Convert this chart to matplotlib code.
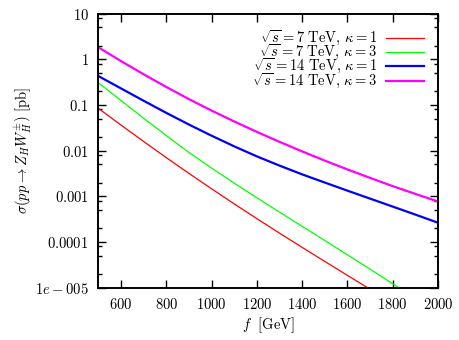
"""
Sección eficaz pp -> Z_H W_H en función de f (estilo gnuplot/epslatex)
"""

import matplotlib
matplotlib.use('Agg')
import matplotlib.pyplot as plt
from matplotlib.ticker import LogLocator, NullFormatter

plt.rcParams['mathtext.fontset'] = 'cm'
plt.rcParams['font.family'] = 'serif'
plt.rcParams['font.serif'] = ['DejaVu Serif']

# ─────────────────────────────────────────────
# Datos
# ─────────────────────────────────────────────
f_full = [500, 600, 700, 800, 900, 1000, 1100, 1200, 1300, 1400,
          1500, 1600, 1700, 1800, 1900, 2000]

f_7_k1 = [500, 600, 700, 800, 900, 1000, 1100, 1200, 1300, 1400,
          1500, 1600, 1700]
sigma_7_k1 = [0.084, 0.0362, 0.0158, 0.00701, 0.00317, 0.00146, 6.82e-4,
              3.24e-4, 1.56e-4, 7.62e-5, 3.75e-5, 1.86e-5, 9.25e-6]

f_7_k3 = [500, 600, 700, 800, 900, 1000, 1100, 1200, 1300, 1400,
          1500, 1600, 1700, 1800, 1900]
sigma_7_k3 = [0.305, 0.1245, 0.0511, 0.0213, 0.00908, 0.00415, 0.00194,
              9.29e-4, 4.5e-4, 2.2e-4, 1.08e-4, 5.25e-5, 2.54e-5, 1.22e-5,
              5.8e-6]

sigma_14_k1 = [0.428, 0.2296, 0.1233, 0.067, 0.0372, 0.0212, 0.0124,
               0.00748, 0.0047, 0.00302, 0.0020, 0.00133, 8.9e-4,
               5.96e-4, 3.98e-4, 2.64e-4]

sigma_14_k3 = [1.82, 0.912, 0.468, 0.247, 0.134, 0.0753, 0.0435, 0.0257,
               0.0156, 0.00962, 0.00605, 0.00388, 0.00253, 0.00167,
               0.00113, 7.7e-4]

labels = [r'$\sqrt{s}=7\ \mathrm{TeV},\,\kappa=1$',
          r'$\sqrt{s}=7\ \mathrm{TeV},\,\kappa=3$',
          r'$\sqrt{s}=14\ \mathrm{TeV},\,\kappa=1$',
          r'$\sqrt{s}=14\ \mathrm{TeV},\,\kappa=3$']

xticks = [600, 800, 1000, 1200, 1400, 1600, 1800, 2000]
yticks = [1e1, 1e0, 1e-1, 1e-2, 1e-3, 1e-4, 1e-5]
ytick_labels = ['10', '1', '0.1', '0.01', '0.001', '0.0001', '1e-005']

# ─────────────────────────────────────────────
# Figura
# ─────────────────────────────────────────────
fig = plt.figure(figsize=(4.6, 3.4), dpi=100)
ax = fig.add_axes([0.214, 0.154, 0.738, 0.806])

ax.plot(f_7_k1, sigma_7_k1, color='#ff0000', lw=0.9, label=labels[0])
ax.plot(f_7_k3, sigma_7_k3, color='#00ff00', lw=0.9, label=labels[1])
ax.plot(f_full, sigma_14_k1, color='#0000ff', lw=1.6, label=labels[2])
ax.plot(f_full, sigma_14_k3, color='#ff00ff', lw=1.6, label=labels[3])

ax.set_yscale('log')
ax.set_xlim(500, 2000)
ax.set_ylim(1e-5, 10)

ax.set_xticks(xticks)
ax.set_xticklabels([f'${v}$' for v in xticks])
ax.set_yticks(yticks)
ax.set_yticklabels([f'${s}$' for s in ytick_labels])
ax.yaxis.set_minor_locator(LogLocator(base=10, subs=(2.0, 5.0, 8.0)))
ax.yaxis.set_minor_formatter(NullFormatter())

ax.tick_params(which='both', direction='in', top=True, right=True,
               labelsize=10.5, pad=7)
ax.tick_params(which='major', length=6, width=1.0)
ax.tick_params(which='minor', length=3, width=1.0)
for sp in ax.spines.values():
    sp.set_linewidth(1.4)

ax.set_xlabel(r'$f\ \ [\mathrm{GeV}]$', fontsize=10.5, labelpad=2)
ax.set_ylabel(r'$\sigma(pp\rightarrow Z_H W_H^{\pm})\ [\mathrm{pb}]$',
              fontsize=10.5, labelpad=1)

ax.legend(loc='upper right', frameon=False, markerfirst=False,
          fontsize=10.5, handlelength=2.6, handletextpad=0.6,
          labelspacing=-0.32, borderpad=0.0, borderaxespad=0.0,
          bbox_to_anchor=(0.959, 0.945))

fig.savefig('out.png', dpi=100)
